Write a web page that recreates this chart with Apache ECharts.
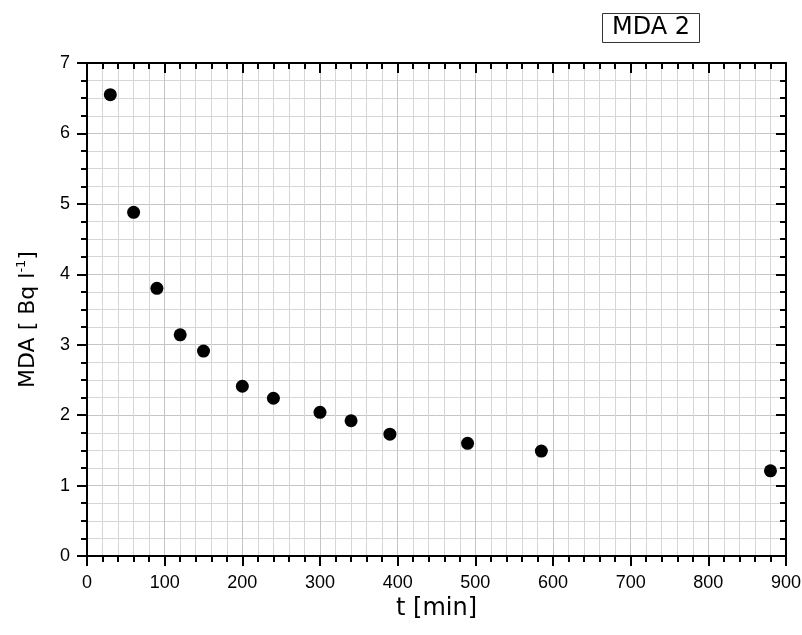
<!DOCTYPE html>
<html>
<head>
<meta charset="utf-8">
<script src="https://cdn.jsdelivr.net/npm/echarts@6/dist/echarts.min.js"></script>
<style>html,body{margin:0;padding:0;background:#fff}#c{width:802px;height:635px}</style>
</head>
<body>
<div id="c"></div>
<script>
var tValues = [30, 60, 90, 120, 150, 200, 240, 300, 340, 390, 490, 585, 880];
var mdaValues = [6.55, 4.88, 3.80, 3.14, 2.91, 2.41, 2.24, 2.04, 1.92, 1.73, 1.60, 1.49, 1.21];
var titleText = 'MDA 2';
var xTitle = 't [min]';

var points = tValues.map(function (t, i) { return [t, mdaValues[i]]; });
var chart = echarts.init(document.getElementById('c'), null, { renderer: 'canvas' });

var tickFont = { fontFamily: 'Liberation Sans, Arial', fontSize: 18, color: '#000' };
var majorGrid = { show: true, lineStyle: { color: '#c4c4c4', width: 1 } };
var minorGrid = { show: true, lineStyle: { color: '#d6d6d6', width: 1 } };

chart.setOption({
  animation: false,
  backgroundColor: '#fff',
  title: {
    text: titleText, left: 602, top: 13,
    borderColor: '#333', borderWidth: 1, padding: [3, 10, 3, 10],
    textStyle: { fontFamily: 'DejaVu Sans', fontSize: 24, lineHeight: 24, fontWeight: 'normal', color: '#000' }
  },
  grid: { left: 87, right: 16, top: 63, bottom: 79, containLabel: false, outerBoundsMode: 'none' },
  xAxis: [{
    type: 'value', min: 0, max: 900, interval: 100, position: 'bottom',
    name: xTitle, nameLocation: 'middle', nameGap: 40,
    nameTextStyle: { fontFamily: 'DejaVu Sans', fontSize: 24, color: '#000' },
    axisLine: { show: true, onZero: false, lineStyle: { color: '#000', width: 2 } },
    axisTick: { show: true, length: 10, lineStyle: { color: '#000', width: 2 } },
    minorTick: { show: true, splitNumber: 5, length: 6, lineStyle: { color: '#000', width: 2 } },
    axisLabel: Object.assign({ margin: 18 }, tickFont),
    splitLine: majorGrid, minorSplitLine: minorGrid
  }, {
    type: 'value', min: 0, max: 900, interval: 100, position: 'top',
    axisLine: { show: true, onZero: false, lineStyle: { color: '#000', width: 2 } },
    axisTick: { show: true, inside: true, length: 10, lineStyle: { color: '#000', width: 2 } },
    minorTick: { show: true, splitNumber: 5, length: 6, lineStyle: { color: '#000', width: 2 } },
    axisLabel: { show: false }, splitLine: { show: false }
  }],
  yAxis: [{
    type: 'value', min: 0, max: 7, interval: 1, position: 'left',
    name: '{a|MDA [ Bq l}{s|-1}{a|]}', nameLocation: 'middle', nameGap: 46, nameRotate: 90,
    nameTextStyle: {
      padding: [0, 20, 0, 0],
      rich: {
        a: { fontFamily: 'DejaVu Sans', fontSize: 22, color: '#000' },
        s: { fontFamily: 'DejaVu Sans', fontSize: 13, color: '#000', padding: [0, 0, 13, 0] }
      }
    },
    axisLine: { show: true, onZero: false, lineStyle: { color: '#000', width: 2 } },
    axisTick: { show: true, length: 10, lineStyle: { color: '#000', width: 2 } },
    minorTick: { show: true, splitNumber: 4, length: 6, lineStyle: { color: '#000', width: 2 } },
    axisLabel: Object.assign({ margin: 17 }, tickFont),
    splitLine: majorGrid, minorSplitLine: minorGrid
  }, {
    type: 'value', min: 0, max: 7, interval: 1, position: 'right',
    axisLine: { show: true, onZero: false, lineStyle: { color: '#000', width: 2 } },
    axisTick: { show: true, inside: true, length: 10, lineStyle: { color: '#000', width: 2 } },
    minorTick: { show: true, splitNumber: 4, length: 6, lineStyle: { color: '#000', width: 2 } },
    axisLabel: { show: false }, splitLine: { show: false }
  }],
  series: [{
    type: 'scatter', xAxisIndex: 0, yAxisIndex: 0,
    data: points, symbol: 'circle', symbolSize: 13,
    itemStyle: { color: '#000', opacity: 1 }
  }]
});
</script>
</body>
</html>
